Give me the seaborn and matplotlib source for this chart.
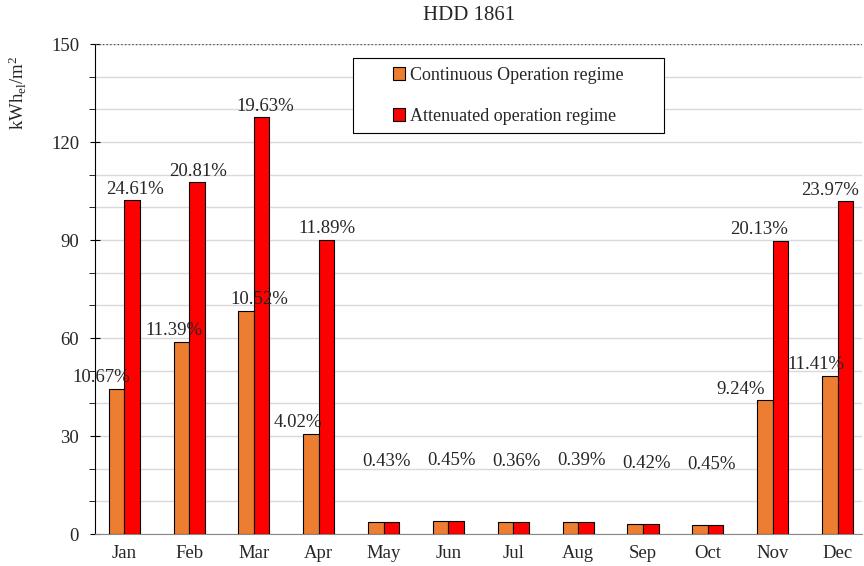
import numpy as np
import pandas as pd
import matplotlib
matplotlib.use("Agg")
import matplotlib.pyplot as plt
from matplotlib.patches import Rectangle
from matplotlib.ticker import MultipleLocator
import seaborn as sns

months = ["Jan", "Feb", "Mar", "Apr", "May", "Jun", "Jul", "Aug", "Sep", "Oct", "Nov", "Dec"]
continuous = [44.4, 58.8, 68.3, 30.6, 3.7, 4.0, 3.6, 3.8, 3.1, 2.8, 41.0, 48.4]
attenuated = [102.2, 107.7, 127.6, 90.0, 3.7, 4.0, 3.6, 3.8, 3.1, 2.8, 89.7, 101.9]
pct_continuous = ["10.67%", "11.39%", "10.52%", "4.02%", "", "", "", "", "", "", "9.24%", "11.41%"]
pct_attenuated = ["24.61%", "20.81%", "19.63%", "11.89%", "0.43%", "0.45%", "0.36%",
                  "0.39%", "0.42%", "0.45%", "20.13%", "23.97%"]
series_names = ["Continuous Operation regime", "Attenuated operation regime"]

# label nudges (in category units), as placed by hand in the original
orange_shift = [-0.23, -0.12, 0.21, -0.21, 0, 0, 0, 0, 0, 0, -0.38, -0.21]
red_shift = [0.04, 0.02, 0.05, 0.0, 0, 0, 0, 0, 0, 0, -0.33, -0.23]

sns.set_style("white")
plt.rcParams["font.family"] = ["Liberation Serif", "DejaVu Serif"]
plt.rcParams["mathtext.fontset"] = "custom"
plt.rcParams["mathtext.rm"] = "Liberation Serif"
plt.rcParams["mathtext.it"] = "Liberation Serif:italic"
FS = 13.5

df = pd.DataFrame({
    "month": months * 2,
    "value": continuous + attenuated,
    "regime": [series_names[0]] * 12 + [series_names[1]] * 12,
})

fig = plt.figure(figsize=(8.64, 5.66), dpi=100)
ax = fig.add_axes([0.110, 0.0565, 0.888, 0.8655])

sns.barplot(data=df, x="month", y="value", hue="regime", order=months,
            hue_order=series_names, palette=["#ED7D31", "#FF0000"], saturation=1,
            width=0.48, edgecolor="black", linewidth=0.8, ax=ax, zorder=3)

ax.set_ylim(0, 150)
ax.set_xlim(-0.45, 11.38)
ax.yaxis.set_major_locator(MultipleLocator(30))
ax.yaxis.set_minor_locator(MultipleLocator(10))
ax.grid(axis="y", which="both", color="#d9d9d9", linewidth=1.0, zorder=0)
ax.axhline(150, color="#555555", linestyle=":", linewidth=1.0, zorder=4)
ax.tick_params(axis="y", which="major", direction="inout", length=7, left=True,
               labelsize=FS, color="black", pad=8)
ax.tick_params(axis="y", which="minor", direction="out", length=4, left=True, color="black")
ax.tick_params(axis="x", length=0, labelsize=FS, pad=8)
for side in ["top", "right"]:
    ax.spines[side].set_visible(False)
ax.spines["left"].set_color("black")
ax.spines["bottom"].set_color("#888888")
ax.set_xlabel("")
ax.set_ylabel(r"kWh$_{\rm el}$/m$^2$", fontsize=FS)
ax.yaxis.set_label_coords(-0.086, 0.90)
fig.text(0.543, 0.973, "HDD 1861", ha="center", va="center", fontsize=15)

orange_bars, red_bars = ax.containers[0], ax.containers[1]
for i in range(len(months)):
    ob, rb = orange_bars[i], red_bars[i]
    if pct_continuous[i]:
        ax.text(ob.get_x() + ob.get_width() / 2 + orange_shift[i], ob.get_height() + 0.8,
                pct_continuous[i], ha="center", va="bottom", fontsize=FS, zorder=5)
        ax.text(rb.get_x() + rb.get_width() / 2 + red_shift[i], rb.get_height() + 0.8,
                pct_attenuated[i], ha="center", va="bottom", fontsize=FS, zorder=5)
    else:
        ax.text(rb.get_x() + 0.05, rb.get_height() + 16.0, pct_attenuated[i],
                ha="center", va="bottom", fontsize=FS, zorder=5)

# legend box as in the original (wide frame, entries centred inside)
ax.add_patch(Rectangle((0.336, 0.818), 0.405, 0.153, transform=ax.transAxes,
                       facecolor="white", edgecolor="black", linewidth=0.8, zorder=6))
leg = ax.legend(loc="center", bbox_to_anchor=(0.5385, 0.8945), frameon=False,
                fontsize=13, handlelength=0.7, handleheight=0.7, handletextpad=0.25,
                labelspacing=1.3, borderpad=0, borderaxespad=0)
leg.set_zorder(7)
for h in leg.legend_handles:
    h.set_edgecolor("black")
    h.set_linewidth(0.8)
leg._legend_box.align = "left"

fig.savefig("out.png", dpi=100)
